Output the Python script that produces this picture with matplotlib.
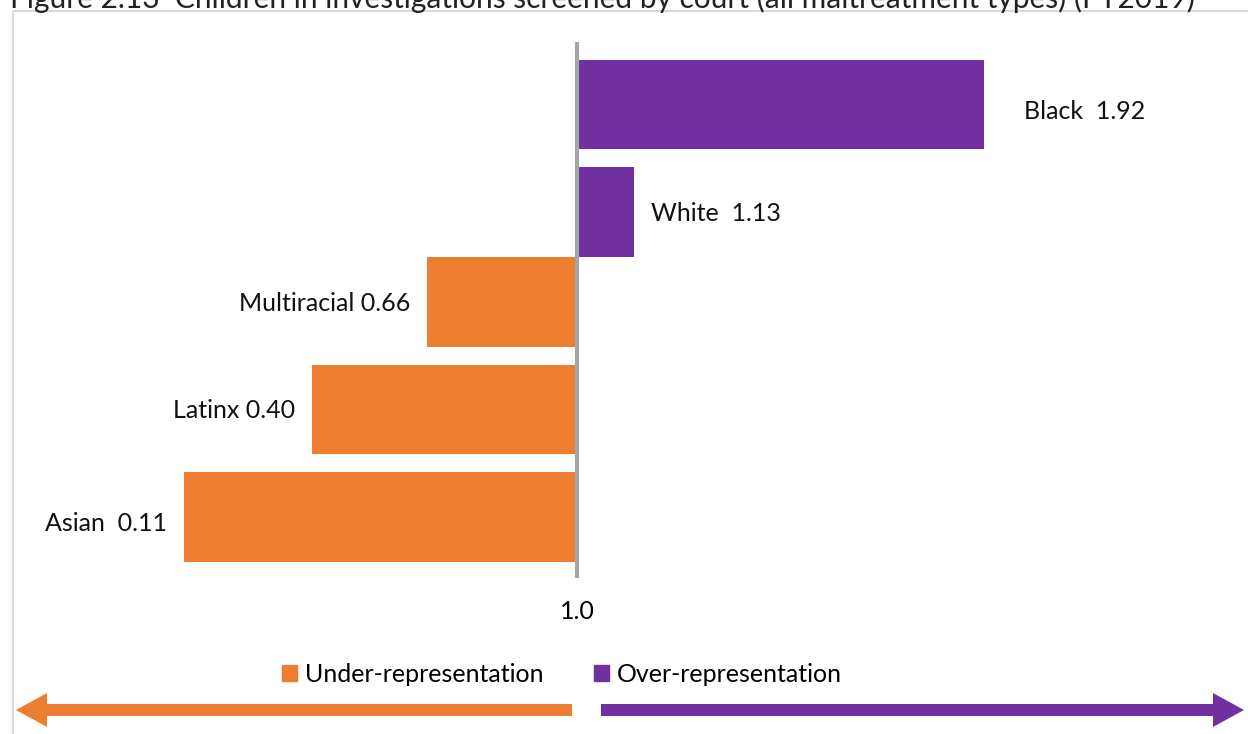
import matplotlib
matplotlib.use("Agg")
import matplotlib.pyplot as plt
from matplotlib.patches import FancyArrow, Rectangle, Patch

plt.rcParams['font.family'] = ['Lato', 'DejaVu Sans']

# data
groups = ['Black', 'White', 'Multiracial', 'Latinx', 'Asian']
ratios = [1.92, 1.13, 0.66, 0.40, 0.11]
label_text = ['Black  1.92', 'White  1.13', 'Multiracial 0.66', 'Latinx 0.40', 'Asian  0.11']
baseline = 1.0
title = 'Figure 2.13  Children in investigations screened by court (all maltreatment types) (FY2019)'

orange = '#ED7D31'
purple = '#7030A0'
W, H = 1248, 734

fig = plt.figure(figsize=(W / 100, H / 100), dpi=100)

# overlay axes in pixel units for frame, title and arrows
bg = fig.add_axes([0, 0, 1, 1])
bg.set_xlim(0, W)
bg.set_ylim(H, 0)
bg.axis('off')
bg.add_patch(Rectangle((13, 11), W, H, fill=False, edgecolor='#d9d9d9', lw=1.5))
bg.text(10, 8, title, fontsize=21.5, va='baseline', ha='left', color='#222222')
bg.add_patch(FancyArrow(572, 710, -556, 0, width=12, head_width=34, head_length=31,
                        length_includes_head=True, color=orange, lw=0))
bg.add_patch(FancyArrow(601, 710, 643, 0, width=12, head_width=34, head_length=31,
                        length_includes_head=True, color=purple, lw=0))

# main chart
ax = fig.add_axes([30 / W, 1 - 578 / H, 1200 / W, 536 / H])
ax.patch.set_alpha(0)
bar_h = 0.837
shift = 0.0814
for i, (g, r, t) in enumerate(zip(groups, ratios, label_text)):
    over = r >= baseline
    y = i + shift if over else i - shift
    ax.barh(y, r - baseline, left=baseline, height=bar_h,
            color=purple if over else orange, zorder=2)
    pad = (29 if i == 0 else 12) if over else -12
    nudge = -5 if i in (0, 4) else -1
    ax.annotate(t, (r, y), xytext=(pad, nudge), textcoords='offset points',
                ha='left' if over else 'right', va='center', fontsize=18, color='#111111')

ax.axvline(baseline, color='#a6a6a6', lw=3, zorder=3)
ax.set_xlim(1 - 547 / 442, 1 + 653 / 442)
ax.set_ylim(4.486, -0.5)
ax.set_yticks([])
ax.set_xticks([baseline], ['1.0'])
ax.tick_params(axis='x', length=0, pad=16, labelsize=18)
for s in ax.spines.values():
    s.set_visible(False)

fig.legend(handles=[Patch(color=orange, label='Under-representation'),
                    Patch(color=purple, label='Over-representation')],
           loc='center', bbox_to_anchor=(562 / W, 1 - 674 / H), ncol=2, frameon=False,
           fontsize=18, handlelength=0.6, handleheight=0.6, handletextpad=0.3,
           columnspacing=2.05)

fig.savefig('out.png', dpi=100)
